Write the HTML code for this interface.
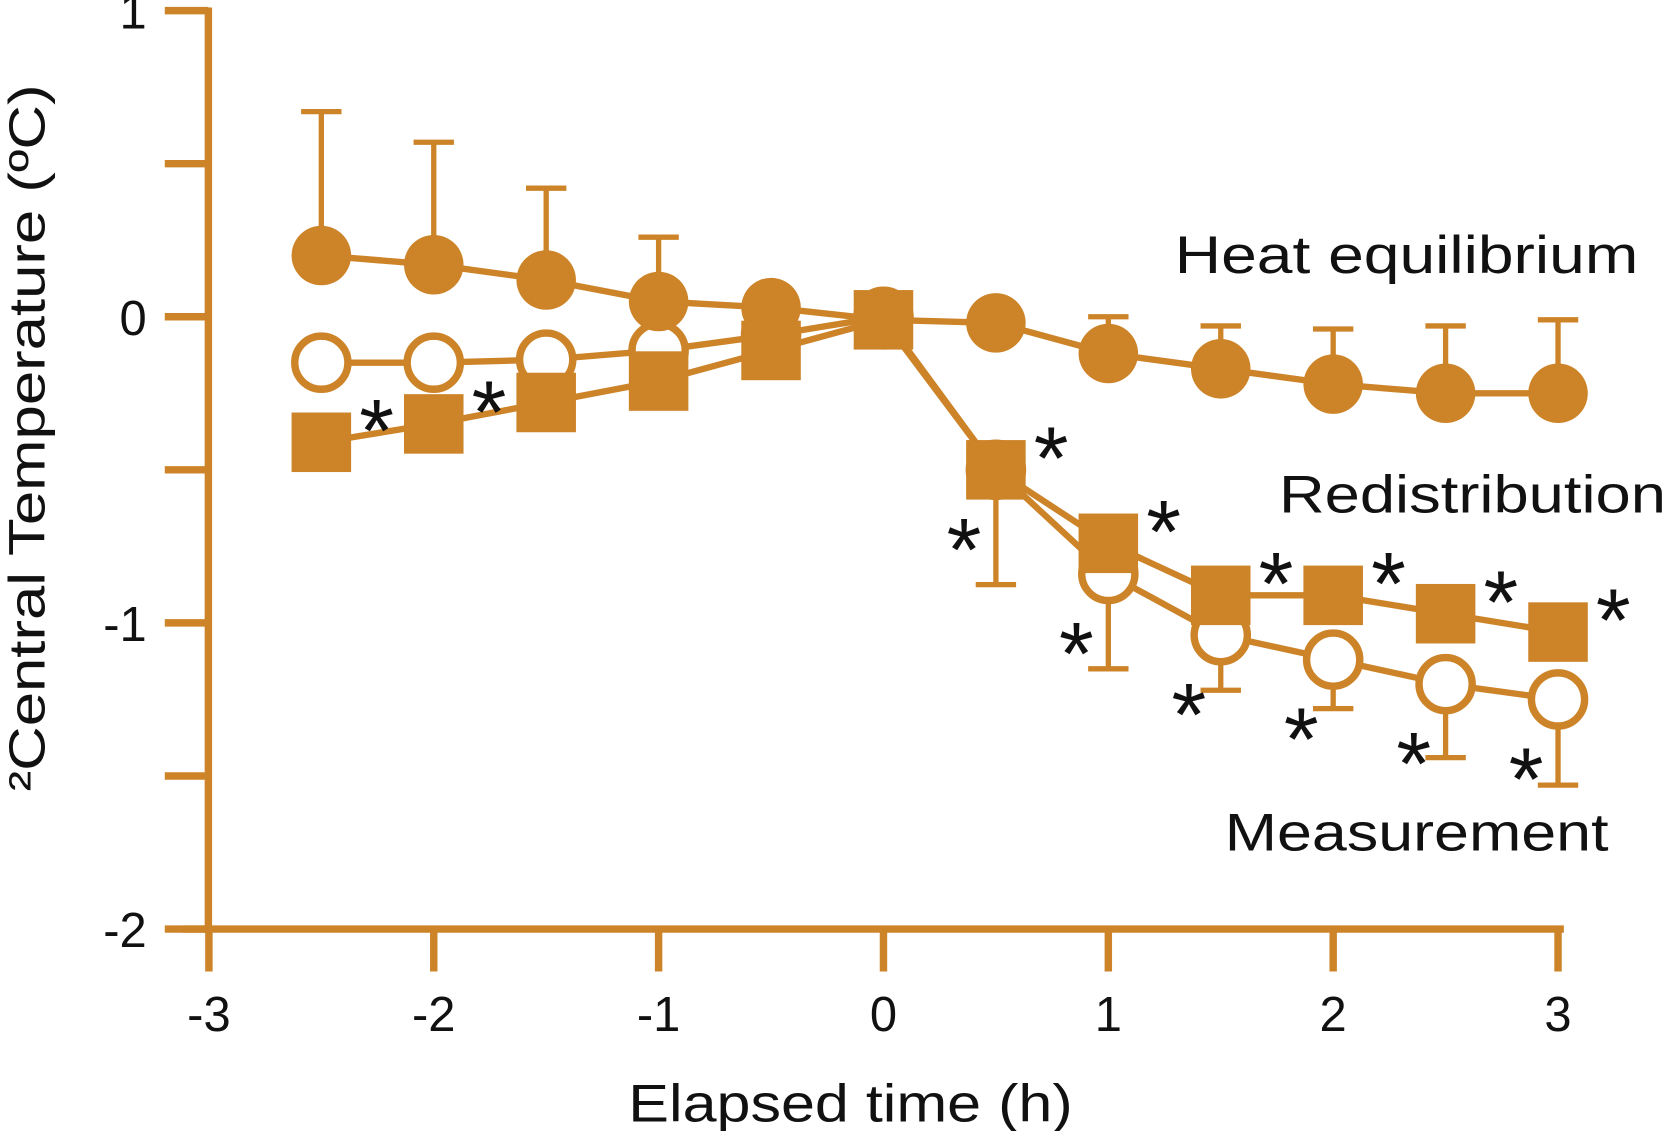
<!DOCTYPE html>
<html><head><meta charset="utf-8"><style>
html,body{margin:0;padding:0;background:#fff;}
svg{display:block;}
text{font-family:"Liberation Sans","DejaVu Sans",sans-serif;}
</style></head><body>
<svg id="chart" width="1667" height="1131" viewBox="0 0 1568 1064" preserveAspectRatio="none" xmlns="http://www.w3.org/2000/svg">
<g id="axes"></g>
<g id="series"></g>
<text x="1105" y="257" font-size="50" textLength="436" lengthAdjust="spacingAndGlyphs" fill="#111">Heat equilibrium</text>
<text x="1203" y="482" font-size="50" textLength="364" lengthAdjust="spacingAndGlyphs" fill="#111">Redistribution</text>
<text x="1152" y="800" font-size="50" textLength="361" lengthAdjust="spacingAndGlyphs" fill="#111">Measurement</text>
<text x="800" y="1055" font-size="50" text-anchor="middle" textLength="418" lengthAdjust="spacingAndGlyphs" fill="#111">Elapsed time (h)</text>
<text transform="translate(42,412) rotate(-90)" font-size="48" text-anchor="middle" textLength="665" lengthAdjust="spacingAndGlyphs" fill="#111">²Central Temperature (ºC)</text>
</svg>
<script>
const times = [-2.5,-2,-1.5,-1,-0.5,0,0.5,1,1.5,2,2.5,3];
const heatVals = [0.20,0.17,0.12,0.05,0.03,-0.01,-0.02,-0.12,-0.17,-0.22,-0.25,-0.25];
const heatErrTop = [0.67,0.57,0.42,0.26,null,null,null,0.0,-0.03,-0.04,-0.03,-0.01];
const measVals = [-0.15,-0.15,-0.14,-0.11,-0.06,0,-0.5,-0.84,-1.04,-1.12,-1.20,-1.25];
const measErrBottom = [null,null,null,null,null,null,-0.875,-1.15,-1.22,-1.28,-1.44,-1.53];
const redistVals = [-0.41,-0.35,-0.28,-0.21,-0.11,-0.01,-0.5,-0.74,-0.91,-0.91,-0.97,-1.03];
const redistStar = [true,true,false,false,false,false,true,true,true,true,true,true];
const measStar = [false,false,false,false,false,false,true,true,true,true,true,true];
const xTicks = [-3,-2,-1,0,1,2,3];
const xTickLabels = ["-3","-2","-1","0","1","2","3"];
const yMajor = [1,0,-1,-2];
const yMajorLabels = ["1","0","-1","-2"];
const yMinor = [0.5,-0.5,-1.5];

const C = "#CD8429";
const NS = "http://www.w3.org/2000/svg";
const xs = t => 831 + 211.5*t;
const ys = v => 298 - 288*v;
function mk(parent, tag, attrs){const e=document.createElementNS(NS,tag);for(const k in attrs)e.setAttribute(k,attrs[k]);parent.appendChild(e);return e;}
const ax = document.getElementById('axes');
const sr = document.getElementById('series');

let e = mk(ax,'line',{x1:196,y1:ys(1)-3,x2:196,y2:ys(-2)+4,stroke:C,'stroke-width':7});
 
e = mk(ax,'line',{x1:172,y1:ys(-2),x2:1471,y2:ys(-2),stroke:C,'stroke-width':7});
 
yMajor.forEach((v,i)=>{
  let t=mk(ax,'line',{x1:155,y1:ys(v),x2:196,y2:ys(v),stroke:C,'stroke-width':7});
   
  let l=mk(ax,'text',{x:138,y:ys(v)+17,'font-size':46,'text-anchor':'end',fill:'#111'});
  l.textContent=yMajorLabels[i];
   
});
yMinor.forEach(v=>{
  let t=mk(ax,'line',{x1:155,y1:ys(v),x2:196,y2:ys(v),stroke:C,'stroke-width':7});
   
});
xTicks.forEach((v,i)=>{
  let t=mk(ax,'line',{x1:xs(v),y1:ys(-2),x2:xs(v),y2:ys(-2)+40,stroke:C,'stroke-width':7});
   
  let l=mk(ax,'text',{x:xs(v),y:970,'font-size':46,'text-anchor':'middle',fill:'#111'});
  l.textContent=xTickLabels[i];
   
});

function errBar(t,v,end,name){
  if(end===null) return;
  let g=mk(sr,'g',{stroke:C,'stroke-width':5});
   
  mk(g,'line',{x1:xs(t),y1:ys(v),x2:xs(t),y2:ys(end)});
  mk(g,'line',{x1:xs(t)-19,y1:ys(end),x2:xs(t)+19,y2:ys(end)});
}
function poly(vals,name){
  let p=mk(sr,'polyline',{points:times.map((t,i)=>xs(t)+','+ys(vals[i])).join(' '),fill:'none',stroke:C,'stroke-width':6});
   
}
times.forEach((t,i)=>errBar(t,measVals[i],measErrBottom[i],'measurement-error-bar'));
poly(measVals,'measurement-line');
times.forEach((t,i)=>{
  let c=mk(sr,'circle',{cx:xs(t),cy:ys(measVals[i]),r:25,fill:'#fff',stroke:C,'stroke-width':7});
   
});
times.forEach((t,i)=>errBar(t,heatVals[i],heatErrTop[i],'heat-error-bar'));
poly(heatVals,'heat-equilibrium-line');
times.forEach((t,i)=>{
  let c=mk(sr,'circle',{cx:xs(t),cy:ys(heatVals[i]),r:28,fill:C});
   
});
poly(redistVals,'redistribution-line');
times.forEach((t,i)=>{
  let r=mk(sr,'rect',{x:xs(t)-28,y:ys(redistVals[i])-28,width:56,height:56,fill:C});
   
});
times.forEach((t,i)=>{
  if(redistStar[i]){
    let s=mk(sr,'text',{x:xs(t)+52,y:ys(redistVals[i])+18,'font-size':84,'text-anchor':'middle',fill:'#111'});
    s.textContent='*';
     
  }
  if(measStar[i]){
    let s=mk(sr,'text',{x:xs(t)-30,y:ys(measVals[i])+104,'font-size':84,'text-anchor':'middle',fill:'#111'});
    s.textContent='*';
     
  }
});
</script>
</body></html>
